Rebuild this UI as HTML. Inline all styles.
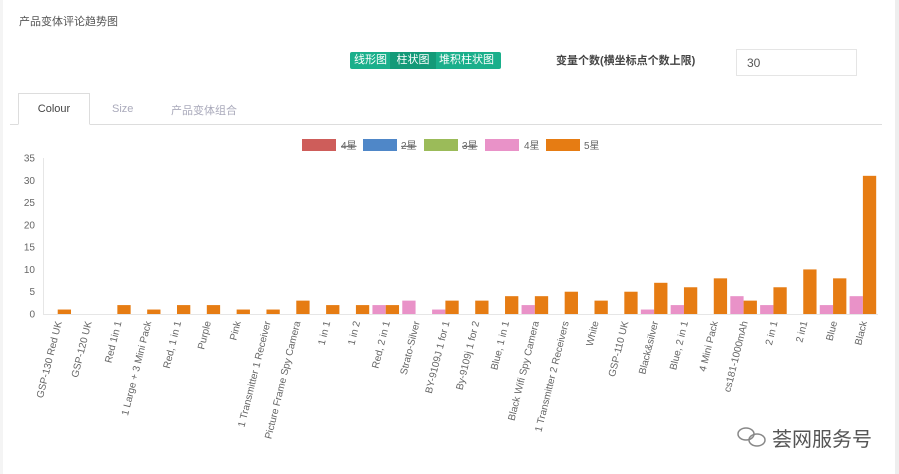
<!DOCTYPE html>
<html><head><meta charset="utf-8"><style>
body{margin:0;width:899px;height:474px;background:#fff;font-family:"Liberation Sans","Noto Sans CJK SC",sans-serif;overflow:hidden;position:relative}
.a{position:absolute}
</style></head><body>
<div class="a" style="left:0;top:0;width:3px;height:474px;background:#f4f4f4"></div>
<div class="a" style="left:895px;top:0;width:4px;height:474px;background:#eee"></div>
<div class="a" style="left:19px;top:13px;font-size:11px;color:#555">产品变体评论趋势图</div>
<div class="a" style="left:350px;top:52px;width:151px;height:17px;background:#1aaf8b;border-radius:2px;font-size:11px;color:#fff;line-height:17px;white-space:nowrap">
<span style="position:absolute;left:4px">线形图</span><span style="position:absolute;left:40px;width:46px;height:17px;background:#139a78;text-align:center">柱状图</span><span style="position:absolute;left:89px">堆积柱状图</span></div>
<div class="a" style="left:556px;top:52px;font-size:11px;font-weight:bold;color:#444">变量个数(横坐标点个数上限)</div>
<div class="a" style="left:736px;top:49px;width:121px;height:27px;border:1px solid #e5e5e5;box-sizing:border-box;font-size:12px;color:#555;line-height:27px;padding-left:10px">30</div>
<div class="a" style="left:10px;top:124px;width:872px;height:1px;background:#ddd"></div>
<div class="a" style="left:18px;top:93px;width:72px;height:32px;border:1px solid #ddd;border-bottom:1px solid #fff;box-sizing:border-box;background:#fff;font-size:11px;color:#444;text-align:center;line-height:30px">Colour</div>
<div class="a" style="left:112px;top:103px;font-size:11px;color:#aab">Size</div>
<div class="a" style="left:171px;top:102px;font-size:11px;color:#aab">产品变体组合</div>
<svg class="a" style="left:0;top:0" width="899" height="474" font-family="Liberation Sans, Noto Sans CJK SC, sans-serif">
<g font-size="10" fill="#666">
<rect x="302" y="139" width="34" height="12" fill="#c23531" opacity=".8"/><text x="341" y="149" text-decoration="line-through">4星</text>
<rect x="363" y="139" width="34" height="12" fill="#3c7ac2" opacity=".9"/><text x="401" y="149" text-decoration="line-through">2星</text>
<rect x="424" y="139" width="34" height="12" fill="#9bbb59"/><text x="462" y="149" text-decoration="line-through">3星</text>
<rect x="485" y="139" width="34" height="12" fill="#e992c8"/><text x="524" y="149">4星</text>
<rect x="546" y="139" width="34" height="12" fill="#e67c13"/><text x="584" y="149">5星</text>
</g>
<line x1="43.5" y1="158" x2="43.5" y2="314" stroke="#e6e6e6"/>
<line x1="43" y1="314.5" x2="878" y2="314.5" stroke="#e6e6e6"/>
<g font-size="10" fill="#666" text-anchor="end" id="yl"></g>
<g id="bars"></g>
<g id="xl" font-size="10" fill="#666" text-anchor="end"></g>
<g transform="translate(746,434)" fill="none" stroke="#888" stroke-width="1.5"><ellipse cx="0" cy="0" rx="8" ry="6"/><ellipse cx="11" cy="6" rx="8" ry="6"/></g>
<text x="772" y="446" font-size="20" fill="#555">荟网服务号</text>
</svg>
<script>
var ns="http://www.w3.org/2000/svg";
function el(p,t,a,txt){var e=document.createElementNS(ns,t);for(var k in a)e.setAttribute(k,a[k]);if(txt)e.textContent=txt;document.getElementById(p).appendChild(e);}
var u=156/35;
for(var v=0;v<=35;v+=5){el("yl","text",{x:35,y:314-v*u+3.5},String(v));}
var L=["GSP-130 Red UK","GSP-120 UK","Red 1in 1","1 Large + 3 Mini Pack","Red, 1 in 1","Purple","Pink","1 Transmitter 1 Receiver","Picture Frame Spy Camera","1 in 1","1 in 2","Red, 2 in 1","Strato-Silver","BY-9109J 1 for 1","By-9109j 1 for 2","Blue, 1 in 1","Black Wifi Spy Camera","1 Transmitter 2 Receivers","White","GSP-110 UK","Black&silver","Blue, 2 in 1","4 Mini Pack","cs181-1000mAh","2 in 1","2 in1","Blue","Black"];
var D=[[0,1],[0,0],[0,2],[0,1],[0,2],[0,2],[0,1],[0,1],[0,3],[0,2],[0,2],[2,2],[3,0],[1,3],[0,3],[0,4],[2,4],[0,5],[0,3],[0,5],[1,7],[2,6],[0,8],[4,3],[2,6],[0,10],[2,8],[4,31]];
var w=835/28;
for(var i=0;i<28;i++){var c=43+w*(i+0.5);
if(D[i][0])el("bars","rect",{x:c-13.5,y:314-D[i][0]*u,width:13.3,height:D[i][0]*u,fill:"#e992c8"});
if(D[i][1])el("bars","rect",{x:c-0.2,y:314-D[i][1]*u,width:13.3,height:D[i][1]*u,fill:"#e67c13"});
el("xl","text",{transform:"translate("+(c+4)+",322) rotate(-76)"},L[i]);}
</script>
</body></html>
